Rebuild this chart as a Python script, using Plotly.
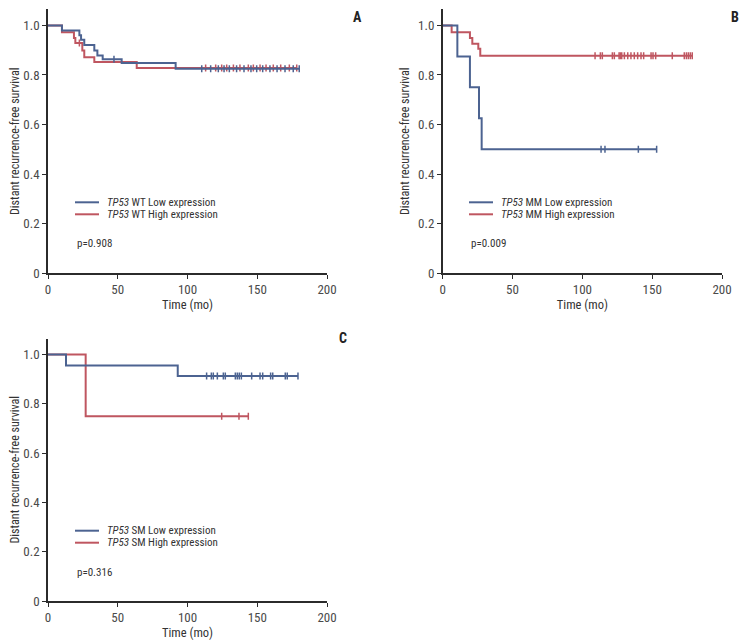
import plotly.graph_objects as go
import numpy as np

# ---------------- data ----------------
# Panel A: TP53 WT
a_low_t = [0, 10, 22.5, 23.7, 26, 33.2, 35.4, 39.2, 52.8, 91.5, 180.1]
a_low_s = [1.0, 0.98, 0.961, 0.942, 0.921, 0.899, 0.879, 0.864, 0.848, 0.825, 0.825]
a_high_t = [0, 10, 18.6, 19.6, 24.6, 26, 33.2, 63.6, 178.3]
a_high_s = [1.0, 0.973, 0.949, 0.929, 0.899, 0.872, 0.852, 0.828, 0.828]
a_low_cens = [47.3, 110.2, 116.6, 122.1, 126.2, 130.0, 135.2, 140.5, 145.5, 149.6, 153.9, 159.1, 164.2, 169.9, 175.8, 180.1]
a_high_cens = [22.5, 113.0, 120.2, 124.5, 128.1, 132.9, 137.6, 143.6, 147.2, 152.0, 156.3, 161.5, 166.8, 173.0, 178.3]

# Panel B: TP53 MM
b_low_t = [0, 10.5, 19.5, 26, 27.9, 153.2]
b_low_s = [1.0, 0.875, 0.75, 0.625, 0.5, 0.5]
b_high_t = [0, 6.4, 19.5, 21.2, 25.5, 26.9, 178.7]
b_high_s = [1.0, 0.973, 0.949, 0.926, 0.906, 0.878, 0.878]
b_low_cens = [113.4, 116.2, 140.1, 153.2]
b_high_cens = [109.1, 112.9, 114.3, 121.5, 122.9, 126.3, 127.2, 128.2, 130.1, 132.5, 134.8,
               137.2, 139.6, 142.0, 143.9, 149.2, 150.6, 152.5, 164.4, 173.0, 174.5, 175.9,
               177.3, 178.7]

# Panel C: TP53 SM
c_low_t = [0, 12.9, 93, 179.2]
c_low_s = [1.0, 0.955, 0.913, 0.913]
c_high_t = [0, 27, 143.6]
c_high_s = [1.0, 0.75, 0.75]
c_low_cens = [113.7, 117.1, 118.5, 121.4, 125.7, 127.1, 134.3, 135.7, 137.1, 138.6, 146.0,
              152.0, 153.9, 159.6, 161.1, 170.1, 171.5, 179.2]
c_high_cens = [124.5, 136.9, 143.6]

panel_labels = ["A", "B", "C"]
group_names = ["WT", "MM", "SM"]
p_values = ["p=0.908", "p=0.009", "p=0.316"]
x_ticks = [0, 50, 100, 150, 200]
y_ticks = [0, 0.2, 0.4, 0.6, 0.8, 1.0]
y_ticktext = ["0", "0.2", "0.4", "0.6", "0.8", "1.0"]

# ---------------- style ----------------
BLUE = "#4c6391"
RED = "#bf5660"
AX = "#2b2b2b"
FONT = "Roboto Condensed, DejaVu Sans Condensed, Liberation Sans Narrow, Roboto, sans-serif"


def fnt(size, color):
    return dict(family=FONT, size=size, color=color)


fig = go.Figure()


def surv_at(times, surv, t):
    idx = np.searchsorted(np.array(times), t, side="right") - 1
    return surv[max(idx, 0)]


panels = [
    (a_low_t, a_low_s, a_high_t, a_high_s, a_low_cens, a_high_cens),
    (b_low_t, b_low_s, b_high_t, b_high_s, b_low_cens, b_high_cens),
    (c_low_t, c_low_s, c_high_t, c_high_s, c_low_cens, c_high_cens),
]

for i, (lt, ls, ht, hs, lc, hc) in enumerate(panels):
    sfx = "" if i == 0 else str(i + 1)
    xa, ya = "x" + sfx, "y" + sfx
    fig.add_trace(go.Scatter(x=ht, y=hs, mode="lines", line=dict(color=RED, width=2, shape="hv"),
                             xaxis=xa, yaxis=ya, showlegend=False, hoverinfo="skip"))
    fig.add_trace(go.Scatter(x=hc, y=[surv_at(ht, hs, t) for t in hc], mode="markers",
                             marker=dict(symbol="line-ns", size=5, line=dict(color=RED, width=1.5)),
                             xaxis=xa, yaxis=ya, showlegend=False, hoverinfo="skip"))
    fig.add_trace(go.Scatter(x=lt, y=ls, mode="lines", line=dict(color=BLUE, width=2, shape="hv"),
                             xaxis=xa, yaxis=ya, showlegend=False, hoverinfo="skip"))
    fig.add_trace(go.Scatter(x=lc, y=[surv_at(lt, ls, t) for t in lc], mode="markers",
                             marker=dict(symbol="line-ns", size=5, line=dict(color=BLUE, width=1.5)),
                             xaxis=xa, yaxis=ya, showlegend=False, hoverinfo="skip"))

# page body has an 8px margin; figure is sized to fill the rest of the window
OFF = 8
W, H = 748 - OFF, 644 - OFF


def px(v):
    return (v - OFF) / W


def py(v):
    return 1 - (v - OFF) / H


x_domains = [[px(48), px(327)], [px(442.7), px(722)], [px(48), px(327)]]
y_domains = [[py(273), py(9.4)], [py(273), py(9.4)], [py(601), py(338.5)]]

layout = dict(
    width=W, height=H,
    margin=dict(l=0, r=0, t=0, b=0),
    paper_bgcolor="white", plot_bgcolor="white",
    font=fnt(12, "#444"),
    showlegend=False,
)

for i in range(3):
    sfx = "" if i == 0 else str(i + 1)
    layout["xaxis" + sfx] = dict(
        domain=x_domains[i], anchor="y" + sfx, range=[0, 200], tickvals=x_ticks,
        showgrid=False, zeroline=False, showline=True, linecolor=AX, linewidth=1.6,
        ticks="outside", ticklen=4, tickwidth=1.4, tickcolor=AX,
        tickfont=fnt(13, "#4a4a4a"),
        title=dict(text="Time (mo)", font=fnt(12.5, "#333"), standoff=3),
        automargin=False, fixedrange=True,
    )
    layout["yaxis" + sfx] = dict(
        domain=y_domains[i], anchor="x" + sfx, range=[0, 1.065], tickvals=y_ticks, ticktext=y_ticktext,
        showgrid=False, zeroline=False, showline=True, linecolor=AX, linewidth=1.6,
        ticks="outside", ticklen=4, tickwidth=1.4, tickcolor=AX,
        tickfont=fnt(13, "#4a4a4a"),
        title=dict(text="Distant recurrence-free survival", font=fnt(12, "#333"), standoff=6),
        automargin=False, fixedrange=True,
    )

fig.update_layout(**layout)

leg_x0 = [75, 469, 75]
leg_row1 = [202.3, 202.3, 530.7]
p_y = [243.3, 244, 572.3]
label_pos = [(357, 17), (735, 17), (343, 338)]
for i in range(3):
    x0 = leg_x0[i]
    for j, (col, lvl) in enumerate([(BLUE, "Low"), (RED, "High")]):
        yy = leg_row1[i] + 12 * j
        fig.add_shape(type="line", xref="paper", yref="paper",
                      x0=px(x0), x1=px(x0 + 24), y0=py(yy), y1=py(yy),
                      line=dict(color=col, width=2))
        fig.add_annotation(xref="paper", yref="paper", x=px(x0 + 30), y=py(yy),
                           xanchor="left", yanchor="middle", showarrow=False,
                           text=f"<i>TP53</i> {group_names[i]} {lvl} expression",
                           font=fnt(11, "#333"))
    fig.add_annotation(xref="paper", yref="paper", x=px(x0), y=py(p_y[i]),
                       xanchor="left", yanchor="middle", showarrow=False, text=p_values[i],
                       font=fnt(11, "#333"))
    lx, ly = label_pos[i]
    fig.add_annotation(xref="paper", yref="paper", x=px(lx), y=py(ly),
                       xanchor="center", yanchor="middle", showarrow=False,
                       text=f"<b>{panel_labels[i]}</b>", font=fnt(14, "#222"))

fig.write_html("out.html")
